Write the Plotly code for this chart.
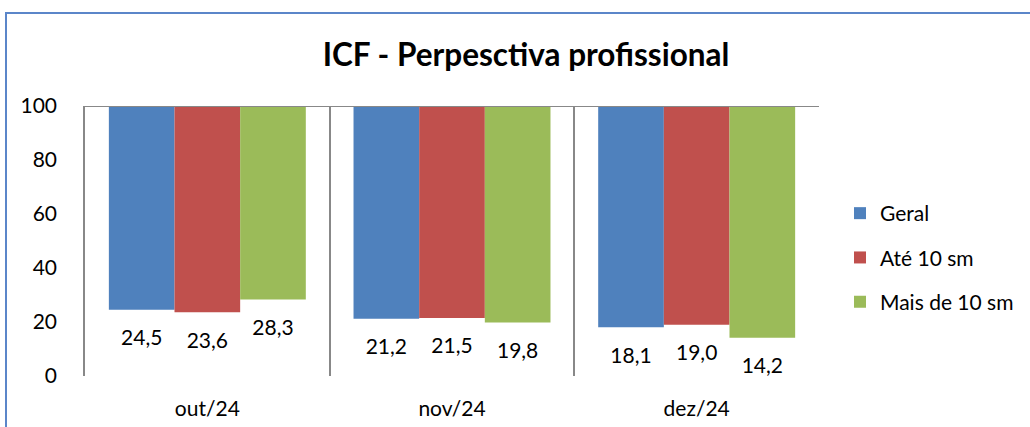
import plotly.graph_objects as go

categories = ["out/24", "nov/24", "dez/24"]
series_names = ["Geral", "Até 10 sm", "Mais de 10 sm"]
geral = [24.5, 21.2, 18.1]
ate10 = [23.6, 21.5, 19.0]
mais10 = [28.3, 19.8, 14.2]
colors = ["#4F81BD", "#C0504D", "#9BBB59"]
y_ticks = [0, 20, 40, 60, 80, 100]
top_value = 100

FONT = "Lato"
W, H = 1030, 427
L, R, T, B = 85, 211, 106, 51

fig = go.Figure()
all_series = [geral, ate10, mais10]
for i, (name, vals, col) in enumerate(zip(series_names, all_series, colors)):
    fig.add_trace(go.Bar(
        x=categories, y=[v - top_value for v in vals], base=[top_value] * len(vals),
        name=name, marker=dict(color=col, line=dict(width=0)),
        offsetgroup=str(i), legendgroup=str(i), hoverinfo="skip",
    ))
for i, vals in enumerate(all_series):
    fig.add_trace(go.Scatter(
        x=categories, y=vals, mode="markers+text",
        text=[f"{v:.1f}".replace(".", ",") for v in vals],
        textposition="bottom center",
        textfont=dict(family=FONT, size=21, color="#000000"),
        marker=dict(size=30, opacity=0),
        offsetgroup=str(i), showlegend=False, hoverinfo="skip", cliponaxis=False,
    ))

pw = W - L - R
ph = H - T - B
def px_x(p):
    return (p - L) / pw
def px_y(p):
    return (H - B - p) / ph

fig.update_layout(
    width=W, height=H,
    margin=dict(l=L, r=R, t=T, b=B, autoexpand=False),
    paper_bgcolor="white", plot_bgcolor="white",
    barmode="group", bargap=0.195, bargroupgap=0,
    scattermode="group", scattergap=0.195,
    title=dict(text="<b>ICF - Perpesctiva profissional</b>", x=526 / W, xref="container",
               y=1 - 55 / H, yref="container", xanchor="center", yanchor="middle",
               font=dict(family=FONT, size=31.5, color="#000000"), automargin=False),
    font=dict(family=FONT, size=21, color="#000000"),
    legend=dict(x=px_x(840), y=px_y(193), xanchor="left", yanchor="top",
                font=dict(family=FONT, size=21), tracegroupgap=14,
                bgcolor="rgba(0,0,0,0)"),
    showlegend=True,
    hovermode=False,
    xaxis=dict(type="category", range=[-0.5, 2.5], tickson="boundaries",
               showgrid=True, gridcolor="#888888", gridwidth=1.5,
               showline=False, ticks="", zeroline=False, automargin=False,
               ticklabelstandoff=18, tickfont=dict(family=FONT, size=21)),
    yaxis=dict(range=[0, 100], tickvals=y_ticks, showgrid=False, zeroline=False,
               showline=True, linecolor="#888888", linewidth=1.5, ticks="",
               automargin=False,
               ticklabelstandoff=22, tickfont=dict(family=FONT, size=21)),
    shapes=[
        dict(type="line", xref="paper", yref="y", x0=0, x1=1, y0=top_value, y1=top_value,
             line=dict(color="#888888", width=2), layer="above"),
        dict(type="rect", xref="paper", yref="paper", x0=px_x(6), x1=px_x(1045),
             y0=px_y(445), y1=px_y(13), line=dict(color="#5B86C9", width=2),
             fillcolor="rgba(0,0,0,0)", layer="below"),
    ],
)

fig.write_html("out.html",
               config={"displayModeBar": False},
               post_script="document.body.style.margin='0';document.body.style.padding='0';")
